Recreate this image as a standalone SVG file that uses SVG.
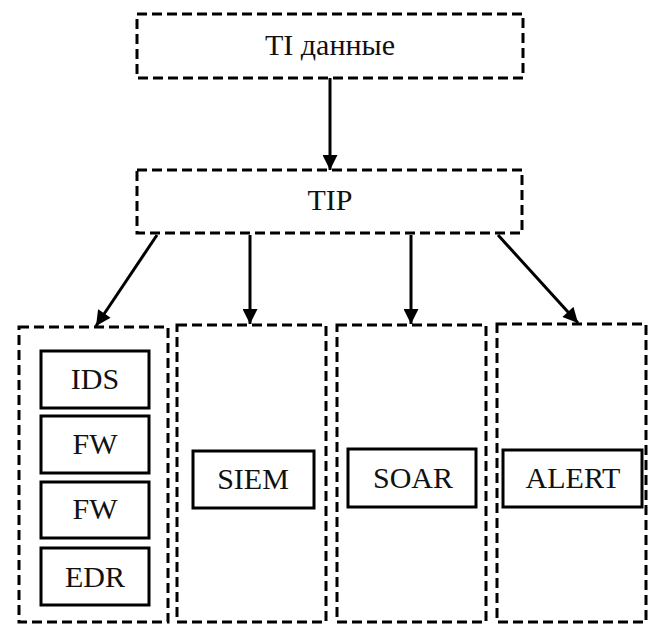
<svg xmlns="http://www.w3.org/2000/svg" width="656" height="625" viewBox="0 0 656 625">
<style>
.dash{fill:none;stroke:#000;stroke-width:3;stroke-dasharray:10 5}
.solid{fill:none;stroke:#000;stroke-width:3}
.t{font-family:'Liberation Serif','Times New Roman','DejaVu Serif',serif;font-size:30px;fill:#111;text-anchor:middle}
.c{stroke:#000;stroke-width:3;fill:none;marker-end:url(#ah)}
</style>
<defs>
<marker id="ah" viewBox="0 0 10 10" refX="10" refY="5" markerWidth="5.5" markerHeight="5" orient="auto" markerUnits="strokeWidth">
<path d="M0,0 L10,5 L0,10 z" fill="#000"/>
</marker>
</defs>
<g id="ti"><rect class="dash" x="137" y="14" width="386" height="64"/><text class="t" x="330" y="55">TI данные</text></g>
<g id="tip"><rect class="dash" x="137" y="170" width="385" height="63"/><text class="t" x="330" y="210">TIP</text></g>
<g id="col1"><rect class="dash" x="19" y="327" width="149" height="295"/>
<g id="ids"><rect class="solid" x="41" y="351" width="108" height="57"/><text class="t" x="95" y="389">IDS</text></g>
<g id="fw1"><rect class="solid" x="41" y="416" width="108" height="57"/><text class="t" x="95" y="454">FW</text></g>
<g id="fw2"><rect class="solid" x="41" y="482" width="108" height="56"/><text class="t" x="95" y="519">FW</text></g>
<g id="edr"><rect class="solid" x="41" y="548" width="108" height="57"/><text class="t" x="95" y="587">EDR</text></g>
</g>
<g id="col2"><rect class="dash" x="177" y="325" width="149" height="297"/>
<g id="siem"><rect class="solid" x="193" y="451" width="121" height="57"/><text class="t" x="253" y="489">SIEM</text></g></g>
<g id="col3"><rect class="dash" x="337" y="325" width="149" height="297"/>
<g id="soar"><rect class="solid" x="348" y="449" width="128" height="58"/><text class="t" x="413" y="488">SOAR</text></g></g>
<g id="col4"><rect class="dash" x="497" y="324" width="149" height="298"/>
<g id="alert"><rect class="solid" x="503" y="450" width="139" height="57"/><text class="t" x="573" y="488">ALERT</text></g></g>
<g id="connectors">
<line class="c" x1="330" y1="78" x2="330" y2="170"/>
<line class="c" x1="157" y1="235" x2="96" y2="326"/>
<line class="c" x1="250" y1="235" x2="250" y2="324"/>
<line class="c" x1="411" y1="235" x2="411" y2="324"/>
<line class="c" x1="498" y1="235" x2="578" y2="323"/>
</g>
</svg>
